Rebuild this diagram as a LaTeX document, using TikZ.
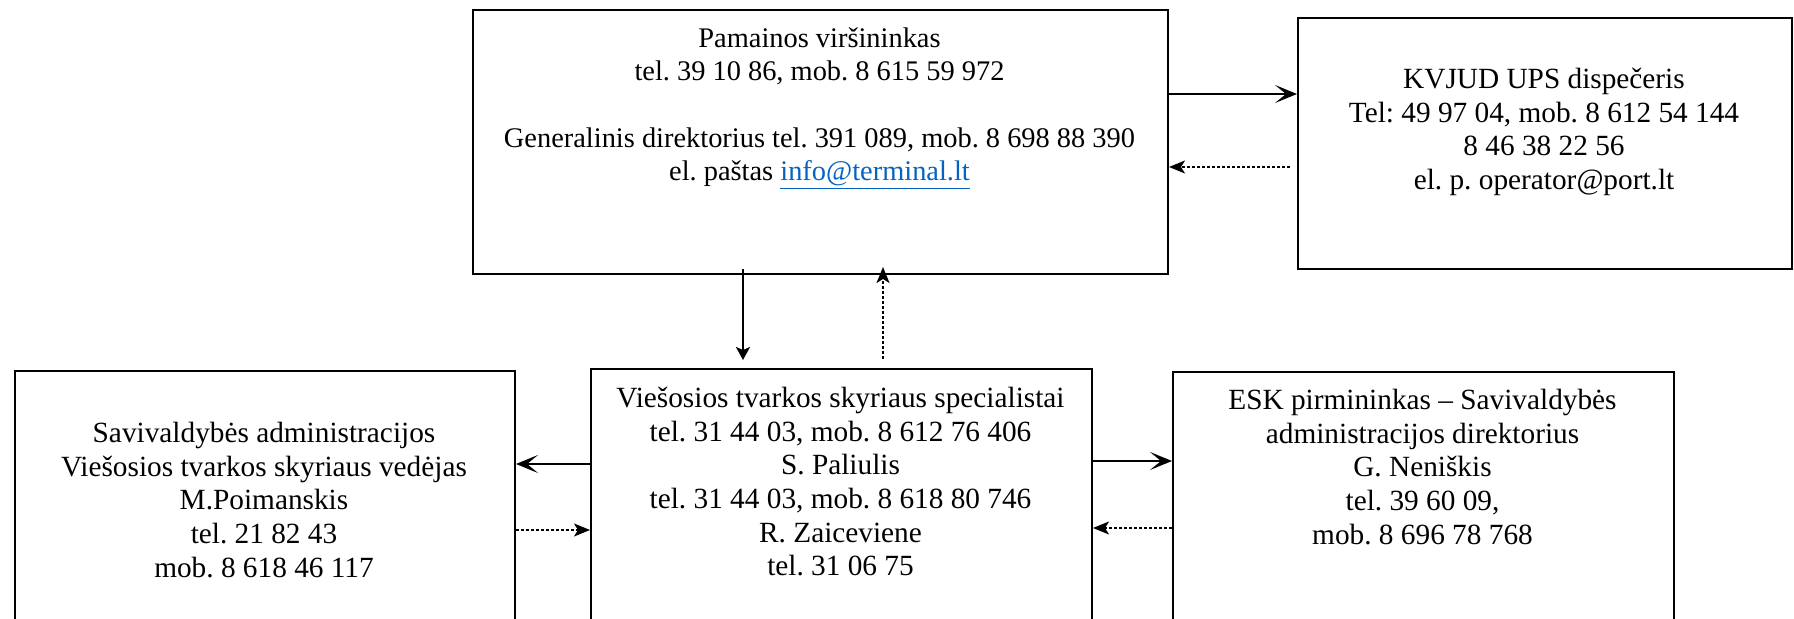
\documentclass[tikz,border=0pt]{standalone}
\usepackage{fontspec}
\setmainfont{Liberation Serif}
\usetikzlibrary{arrows.meta}
\definecolor{linkblue}{HTML}{0563C1}
\newcommand{\tstrut}{\rule{0pt}{12pt}}
\frenchspacing
\begin{document}
\begin{tikzpicture}[x=0.5pt,y=-0.5pt,
  box/.style={draw, line width=1pt, inner sep=0pt, anchor=north west},
  txt/.style={align=center, anchor=north, inner sep=0pt, font=\fontsize{14.65}{16.85}\selectfont\frenchspacing},
  txtA/.style={txt, font=\fontsize{14.2}{16.7}\selectfont\frenchspacing},
  solidarr/.style={line width=1pt, -{Stealth[length=11pt,width=9pt,inset=5.5pt]}},
  solidv/.style={line width=1pt, -{Stealth[length=6.5pt,width=7pt,inset=1.5pt]}},
  dasharr/.style={line width=0.8pt, dash pattern=on 1.5pt off 1pt, -{Stealth[length=8pt,width=6.5pt,inset=2pt]}}
]
\useasboundingbox (0,0) rectangle (1794,619);
\clip (0,0) rectangle (1794,619);
% boxes
\node[box, minimum width=347.5pt, minimum height=132pt] (A) at (472,9) {};
\node[box, minimum width=247pt, minimum height=125.5pt] (B) at (1297,17) {};
\node[box, minimum width=250.5pt, minimum height=145pt] (C) at (590,368) {};
\node[box, minimum width=250pt, minimum height=145pt] (D) at (14,370) {};
\node[box, minimum width=250.5pt, minimum height=145pt] (E) at (1172,371) {};
% texts
\node[txtA] (tA) at (819.5,22.7) {\tstrut Pamainos viršininkas\\tel. 39 10 86, mob. 8 615 59 972\\ \mbox{}\\Generalinis direktorius tel. 391 089, mob. 8 698 88 390\\el. paštas \textcolor{linkblue}{\underline{info@terminal.lt}}};
\node[txt] (tB) at (1544,64) {\tstrut KVJUD UPS dispečeris\\Tel: 49 97 04, mob. 8 612 54 144\\8 46 38 22 56\\el. p. operator@port.lt};
\node[txt] (tC) at (840.5,383) {\tstrut Viešosios tvarkos skyriaus specialistai\\tel. 31 44 03, mob. 8 612 76 406\\S. Paliulis\\tel. 31 44 03, mob. 8 618 80 746\\R. Zaiceviene\\tel. 31 06 75};
\node[txt] (tD) at (264,418) {\tstrut Savivaldybės administracijos\\Viešosios tvarkos skyriaus vedėjas\\M.Poimanskis\\tel. 21 82 43\\mob. 8 618 46 117};
\node[txt] (tE) at (1422.5,385) {\tstrut ESK pirmininkas – Savivaldybės\\administracijos direktorius\\G. Neniškis\\tel. 39 60 09,\\mob. 8 696 78 768};
% connectors
\draw[solidarr] (A.east |- 0,94) -- (B.west |- 0,94);
\draw[dasharr] ([xshift=-3.5pt]B.west |- 0,167) -- (A.east |- 0,167);
\draw[solidv] ([yshift=3pt]A.south -| 743,0) -- ([yshift=4pt]C.north -| 743,0);
\draw[dasharr] ([yshift=4.5pt]C.north -| 883,0) -- ([yshift=4pt]A.south -| 883,0);
\draw[solidarr] (C.west |- 0,464) -- (D.east |- 0,464);
\draw[dasharr] (D.east |- 0,530) -- (C.west |- 0,530);
\draw[solidarr] (C.east |- 0,461) -- (E.west |- 0,461);
\draw[dasharr] (E.west |- 0,528) -- (C.east |- 0,528);
\end{tikzpicture}
\end{document}
